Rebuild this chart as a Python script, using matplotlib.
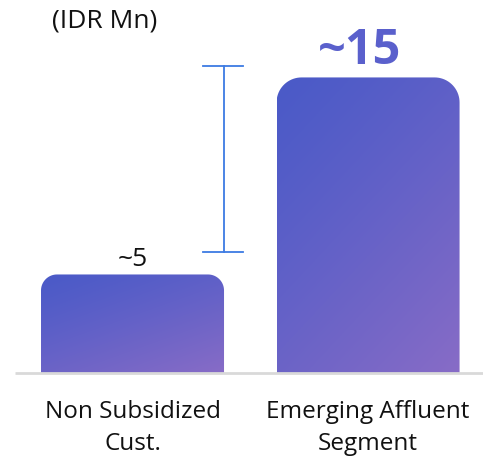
import matplotlib
matplotlib.use("Agg")
import matplotlib.pyplot as plt
import numpy as np
from matplotlib.path import Path
from matplotlib.patches import PathPatch

plt.rcParams["font.family"] = ["Open Sans", "DejaVu Sans"]

# data
categories = ["Non Subsidized\nCust.", "Emerging Affluent\nSegment"]
values = [5, 15]
value_labels = ["~5", "~15"]
unit_label = "(IDR Mn)"

W, H = 483, 465
fig = plt.figure(figsize=(W / 100, H / 100), dpi=100)
ax = fig.add_axes([0, 0, 1, 1])
ax.set_xlim(-0.5626, 1.488)
ax.set_ylim(-4.67, 18.93)
ax.axis("off")

bar_w = 0.777
px_x = 235.5   # pixels per x unit
px_y = 19.7    # pixels per y unit


def rounded_top(x0, x1, top, r_px):
    # bar outline with rounded top corners (radius given in pixels)
    rx = r_px / px_x
    ry = r_px / px_y
    t = np.linspace(0, np.pi / 2, 20)
    left = np.column_stack([x0 + rx - rx * np.cos(t), top - ry + ry * np.sin(t)])
    right = np.column_stack([x1 - rx + rx * np.sin(t), top - ry + ry * np.cos(t)])
    pts = np.vstack([[x0, 0], left, right, [x1, 0], [x0, 0]])
    codes = [Path.MOVETO] + [Path.LINETO] * (len(pts) - 2) + [Path.CLOSEPOLY]
    return Path(pts, codes)


c_tl = np.array([74, 90, 200]) / 255
c_br = np.array([136, 108, 198]) / 255
gy, gx = np.mgrid[0:1:200j, 0:1:200j]
g = (gx * 0.4 + gy * 0.6)[..., None] ** 1.2
grad = c_tl * (1 - g) + c_br * g

radii = [16, 25]
for i, v in enumerate(values):
    x0, x1 = i - bar_w / 2, i + bar_w / 2
    patch = PathPatch(rounded_top(x0, x1, v, radii[i]), facecolor="none", edgecolor="none")
    ax.add_patch(patch)
    im = ax.imshow(grad, extent=[x0, x1, 0, v], origin="upper", aspect="auto", zorder=2)
    im.set_clip_path(patch)

# baseline
ax.plot([-0.5, 1.488], [0, 0], color="#d9d9d9", lw=2, zorder=3, solid_capstyle="butt")

# value labels
ax.text(0, values[0] + 0.1, value_labels[0], ha="center", va="bottom", fontsize=19, color="#111111")
ax.text(1 - 0.035, values[1] + 0.05, value_labels[1], ha="center", va="bottom", fontsize=35,
        fontweight="bold", color="#5a60cc")

# category labels
for i, c in enumerate(categories):
    ax.text(i, -1.35, c, ha="center", va="top", fontsize=17.5, color="#111111", linespacing=1.45)

# unit label
ax.text(-0.342, 17.85, unit_label, ha="left", va="center", fontsize=19, color="#111111")

# difference bracket
bx = 0.389
ax.plot([bx, bx], [6.14, 15.58], color="#3d7be3", lw=1.3)
ax.plot([bx - 0.09, bx + 0.08], [15.58, 15.58], color="#3d7be3", lw=1.3)
ax.plot([bx - 0.09, bx + 0.08], [6.14, 6.14], color="#3d7be3", lw=1.3)

fig.savefig("out.png", dpi=100)
